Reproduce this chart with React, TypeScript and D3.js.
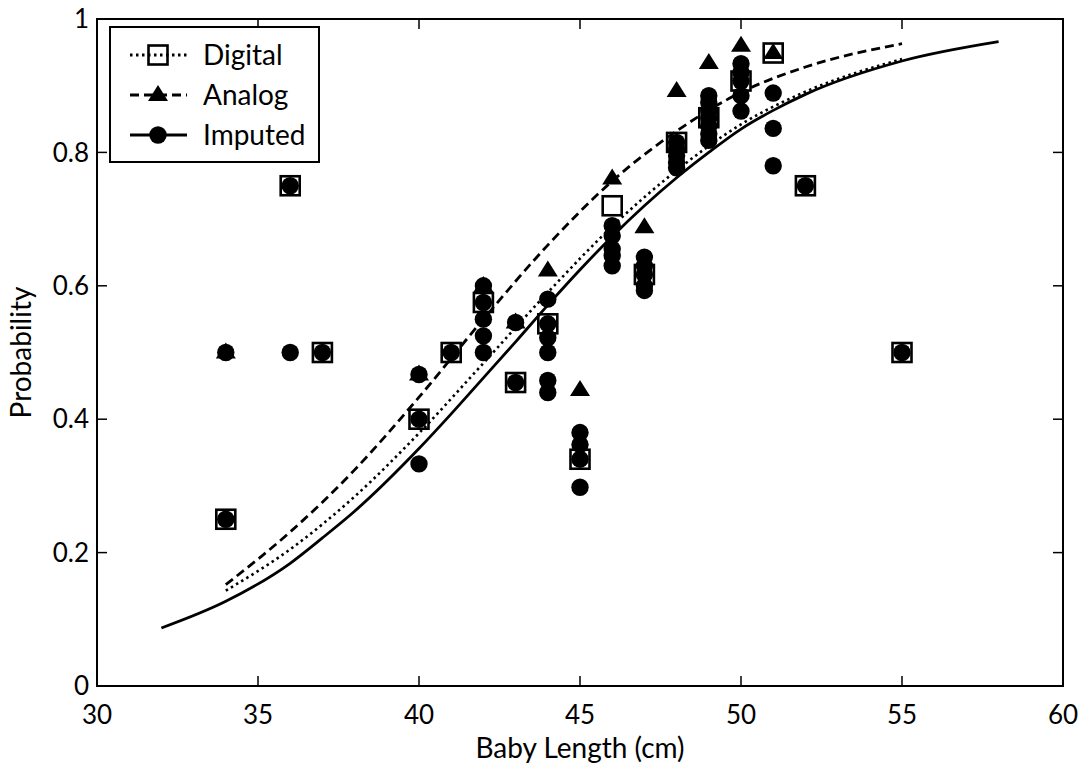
import React from "react";
import * as d3 from "d3";

// ---- data ----
const xTicks = [30, 35, 40, 45, 50, 55, 60];
const yTicks = [0, 0.2, 0.4, 0.6, 0.8, 1];

const digitalX = [34, 36, 37, 40, 41, 42, 43, 44, 45, 46, 47, 48, 49, 50, 51, 52, 55];
const digitalP = [0.25, 0.75, 0.5, 0.4, 0.5, 0.575, 0.455, 0.543, 0.34, 0.72, 0.617, 0.815, 0.852, 0.907, 0.949, 0.75, 0.5];

const analogX = [34, 40, 42, 43, 44, 45, 46, 47, 48, 49, 50, 51];
const analogP = [0.5, 0.467, 0.6, 0.545, 0.623, 0.444, 0.761, 0.688, 0.892, 0.934, 0.96, 0.949];

const imputedX = [
  34, 34, 36, 36, 37, 40, 40, 40, 41,
  42, 42, 42, 42, 42, 43, 43,
  44, 44, 44, 44, 44, 44,
  45, 45, 45, 45,
  46, 46, 46, 46, 46,
  47, 47, 47, 47, 47,
  48, 48, 48, 48, 48,
  49, 49, 49, 49, 49, 49, 49,
  50, 50, 50, 50, 50,
  51, 51, 51, 52, 55,
];
const imputedP = [
  0.25, 0.5, 0.75, 0.5, 0.5, 0.4, 0.467, 0.333, 0.5,
  0.6, 0.575, 0.55, 0.525, 0.5, 0.455, 0.545,
  0.58, 0.543, 0.522, 0.5, 0.458, 0.44,
  0.38, 0.362, 0.34, 0.298,
  0.69, 0.675, 0.655, 0.645, 0.63,
  0.643, 0.63, 0.617, 0.6, 0.593,
  0.815, 0.805, 0.795, 0.785, 0.777,
  0.885, 0.875, 0.862, 0.852, 0.84, 0.828, 0.818,
  0.933, 0.92, 0.907, 0.885, 0.862,
  0.889, 0.836, 0.78, 0.75, 0.5,
];

const imputedFitX = [32, 34, 36, 37, 38, 40, 41, 42, 43, 44, 45, 46, 47, 48, 49, 50, 51, 52, 55, 58];
const imputedFitP = [0.087, 0.127, 0.184, 0.222, 0.262, 0.356, 0.408, 0.462, 0.516, 0.571, 0.624, 0.674, 0.72, 0.762, 0.8, 0.835, 0.863, 0.887, 0.937, 0.966];

const digitalFitX = [34, 36, 38, 40, 42, 44, 46, 48, 50, 52, 55];
const digitalFitP = [0.143, 0.205, 0.284, 0.379, 0.484, 0.59, 0.689, 0.773, 0.842, 0.891, 0.94];

const analogFitX = [34, 36, 38, 40, 42, 44, 46, 48, 50, 52, 55];
const analogFitP = [0.152, 0.231, 0.324, 0.433, 0.55, 0.661, 0.757, 0.832, 0.89, 0.928, 0.963];

const legendLabels = ["Digital", "Analog", "Imputed"];

const FONT = "Lato, 'Open Sans', sans-serif";
const FS = 28;
const TFS = 26;

export default function App() {
  const W = 1084, H = 767;
  const left = 97, right = 1063, top = 19, bottom = 686;
  const x = d3.scaleLinear().domain([30, 60]).range([left, right]);
  const y = d3.scaleLinear().domain([0, 1]).range([bottom, top]);
  const line = d3.line<[number, number]>().x((d) => x(d[0])).y((d) => y(d[1])).curve(d3.curveMonotoneX);

  const zip = (a: number[], b: number[]) => a.map((v, i) => [v, b[i]] as [number, number]);
  const tickLen = 10;

  const sq = 19;
  const sqW = 2.6;
  const cr = 8.7;
  const tri = (cx: number, cy: number, w = 20, h = 16) =>
    `M${cx},${cy - h * 0.62} L${cx + w / 2},${cy + h * 0.38} L${cx - w / 2},${cy + h * 0.38} Z`;

  const legY = [55, 95, 135];
  const legDash = ["2.5,3.5", "9,5", "none"];

  return (
    <svg width={W} height={H} style={{ position: "absolute", left: 0, top: 0, background: "#fff" }}>
      <rect x={0} y={0} width={W} height={H} fill="#fff" />
      {/* fitted curves */}
      <path d={line(zip(digitalFitX, digitalFitP)) || ""} fill="none" stroke="#000" strokeWidth={2.6} strokeDasharray="2.5,3.5" />
      <path d={line(zip(analogFitX, analogFitP)) || ""} fill="none" stroke="#000" strokeWidth={2.8} strokeDasharray="9,5" />
      <path d={line(zip(imputedFitX, imputedFitP)) || ""} fill="none" stroke="#000" strokeWidth={2.8} />

      {/* markers */}
      {digitalX.map((v, i) => (
        <rect key={"d" + i} x={x(v) - sq / 2} y={y(digitalP[i]) - sq / 2} width={sq} height={sq} fill="none" stroke="#000" strokeWidth={sqW} />
      ))}
      {analogX.map((v, i) => (
        <path key={"a" + i} d={tri(x(v), y(analogP[i]))} fill="#000" />
      ))}
      {imputedX.map((v, i) => (
        <circle key={"i" + i} cx={x(v)} cy={y(imputedP[i])} r={cr} fill="#000" />
      ))}

      {/* axes box */}
      <rect x={left} y={top} width={right - left} height={bottom - top} fill="none" stroke="#000" strokeWidth={2} />
      {xTicks.slice(1, -1).map((t) => (
        <g key={"xt" + t}>
          <line x1={x(t)} x2={x(t)} y1={bottom} y2={bottom - tickLen} stroke="#000" strokeWidth={1.5} />
          <line x1={x(t)} x2={x(t)} y1={top} y2={top + tickLen} stroke="#000" strokeWidth={1.5} />
        </g>
      ))}
      {yTicks.slice(1, -1).map((t) => (
        <g key={"yt" + t}>
          <line x1={left} x2={left + tickLen} y1={y(t)} y2={y(t)} stroke="#000" strokeWidth={1.5} />
          <line x1={right} x2={right - tickLen} y1={y(t)} y2={y(t)} stroke="#000" strokeWidth={1.5} />
        </g>
      ))}
      {xTicks.map((t) => (
        <text key={"xl" + t} x={x(t)} y={724} textAnchor="middle" fontFamily={FONT} fontSize={TFS} fill="#000">
          {t}
        </text>
      ))}
      {yTicks.map((t) => (
        <text key={"yl" + t} x={89} y={y(t)} dy="0.35em" textAnchor="end" fontFamily={FONT} fontSize={TFS} fill="#000">
          {t === 0 || t === 1 ? String(t) : t.toFixed(1)}
        </text>
      ))}
      <text x={(left + right) / 2} y={758} textAnchor="middle" fontFamily={FONT} fontSize={FS} fill="#000">
        Baby Length (cm)
      </text>
      <text transform={`translate(31,${(top + bottom) / 2}) rotate(-90)`} textAnchor="middle" fontFamily={FONT} fontSize={FS} fill="#000">
        Probability
      </text>

      {/* legend */}
      <rect x={110} y={27} width={209} height={135} fill="#fff" stroke="#000" strokeWidth={2} />
      {legendLabels.map((lab, i) => (
        <g key={lab}>
          <line x1={130} x2={187} y1={legY[i]} y2={legY[i]} stroke="#000" strokeWidth={2.8} strokeDasharray={legDash[i]} />
          {i === 0 && <rect x={158 - sq / 2} y={legY[i] - sq / 2} width={sq} height={sq} fill="none" stroke="#000" strokeWidth={sqW} />}
          {i === 1 && <path d={tri(158, legY[i])} fill="#000" />}
          {i === 2 && <circle cx={158} cy={legY[i]} r={cr} fill="#000" />}
          <text x={203} y={legY[i]} dy="0.35em" fontFamily={FONT} fontSize={FS} fill="#000">
            {lab}
          </text>
        </g>
      ))}
    </svg>
  );
}
